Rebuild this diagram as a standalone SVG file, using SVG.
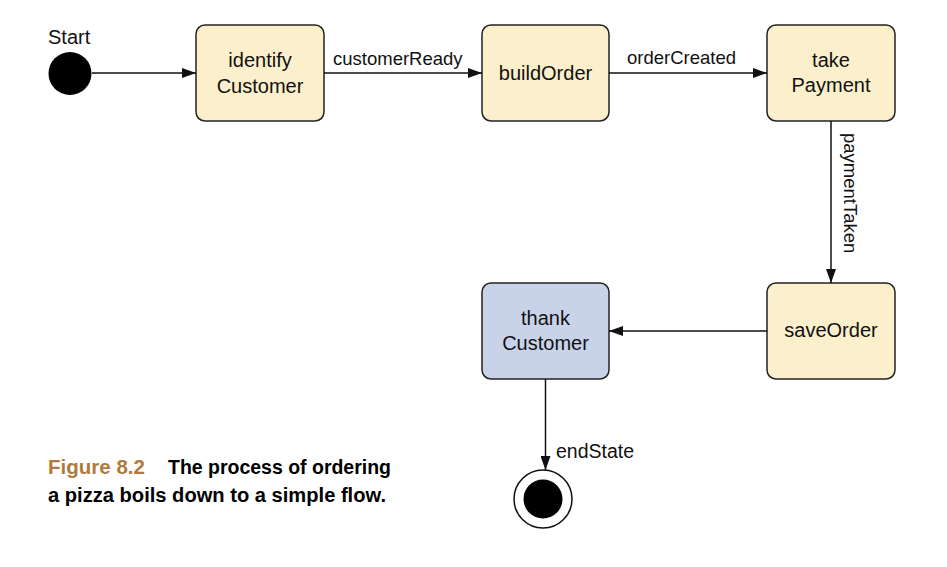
<svg xmlns="http://www.w3.org/2000/svg" width="947" height="567" viewBox="0 0 947 567">
<style>
.node{stroke:#222;stroke-width:1.5}
.y{fill:#fcefcb}
.b{fill:#c8d3ea}
.t{font-family:"Liberation Sans",Arial,sans-serif;font-size:20px;fill:#111;text-anchor:middle}
.l{font-family:"Liberation Sans",Arial,sans-serif;font-size:18.5px;fill:#111}
.e{stroke:#111;stroke-width:1.5;fill:none;marker-end:url(#arr)}
.cap{font-family:"Liberation Sans",Arial,sans-serif;font-size:19.5px;font-weight:bold}
</style>
<defs>
<marker id="arr" markerWidth="14" markerHeight="10" refX="14" refY="5" orient="auto" markerUnits="userSpaceOnUse">
<path d="M0,0 L14,5 L0,10 Z" fill="#111"/>
</marker>
</defs>
<rect width="947" height="567" fill="#fff"/>
<g id="start">
<circle cx="70" cy="73.5" r="21.5" fill="#000"/>
<text class="l" x="48" y="44" style="font-size:20px">Start</text>
</g>
<g id="identifyCustomer">
<rect class="node y" x="196" y="25" width="128" height="96" rx="9"/>
<text class="t" x="260" y="67">identify</text>
<text class="t" x="260" y="93">Customer</text>
</g>
<g id="buildOrder">
<rect class="node y" x="482" y="25" width="127" height="96" rx="9"/>
<text class="t" x="545.5" y="80">buildOrder</text>
</g>
<g id="takePayment">
<rect class="node y" x="767" y="25" width="128" height="96" rx="9"/>
<text class="t" x="831" y="67">take</text>
<text class="t" x="831" y="92">Payment</text>
</g>
<g id="saveOrder">
<rect class="node y" x="767" y="283" width="128" height="96" rx="9"/>
<text class="t" x="831" y="337">saveOrder</text>
</g>
<g id="thankCustomer">
<rect class="node b" x="482" y="283" width="127" height="96" rx="9"/>
<text class="t" x="545.5" y="325">thank</text>
<text class="t" x="545.5" y="350">Customer</text>
</g>
<g id="end">
<circle cx="543" cy="499" r="29" fill="#fff" stroke="#111" stroke-width="1.5"/>
<circle cx="543" cy="499" r="19.5" fill="#000"/>
</g>
<g id="connectors">
<line class="e" x1="92" y1="73" x2="196" y2="73"/>
<line class="e" x1="324" y1="73" x2="482" y2="73"/>
<text class="l" x="333" y="65">customerReady</text>
<line class="e" x1="609" y1="73" x2="767" y2="73"/>
<text class="l" x="627" y="64">orderCreated</text>
<line class="e" x1="831" y1="121" x2="831" y2="283"/>
<text class="l" transform="translate(844,133) rotate(90)">paymentTaken</text>
<line class="e" x1="545.5" y1="379" x2="545.5" y2="470" transform="translate(0,0)"/>
<line class="e" x1="767" y1="331" x2="609" y2="331"/>
<text class="l" x="556" y="458" style="font-size:19.5px">endState</text>
</g>
<g id="caption">
<text class="cap" x="48" y="474" fill="#b07a3e" textLength="97" lengthAdjust="spacingAndGlyphs">Figure 8.2</text>
<text class="cap" x="168" y="474" fill="#000" textLength="223" lengthAdjust="spacingAndGlyphs">The process of ordering</text>
<text class="cap" x="48" y="502" fill="#000" textLength="338" lengthAdjust="spacingAndGlyphs">a pizza boils down to a simple flow.</text>
</g>
</svg>
